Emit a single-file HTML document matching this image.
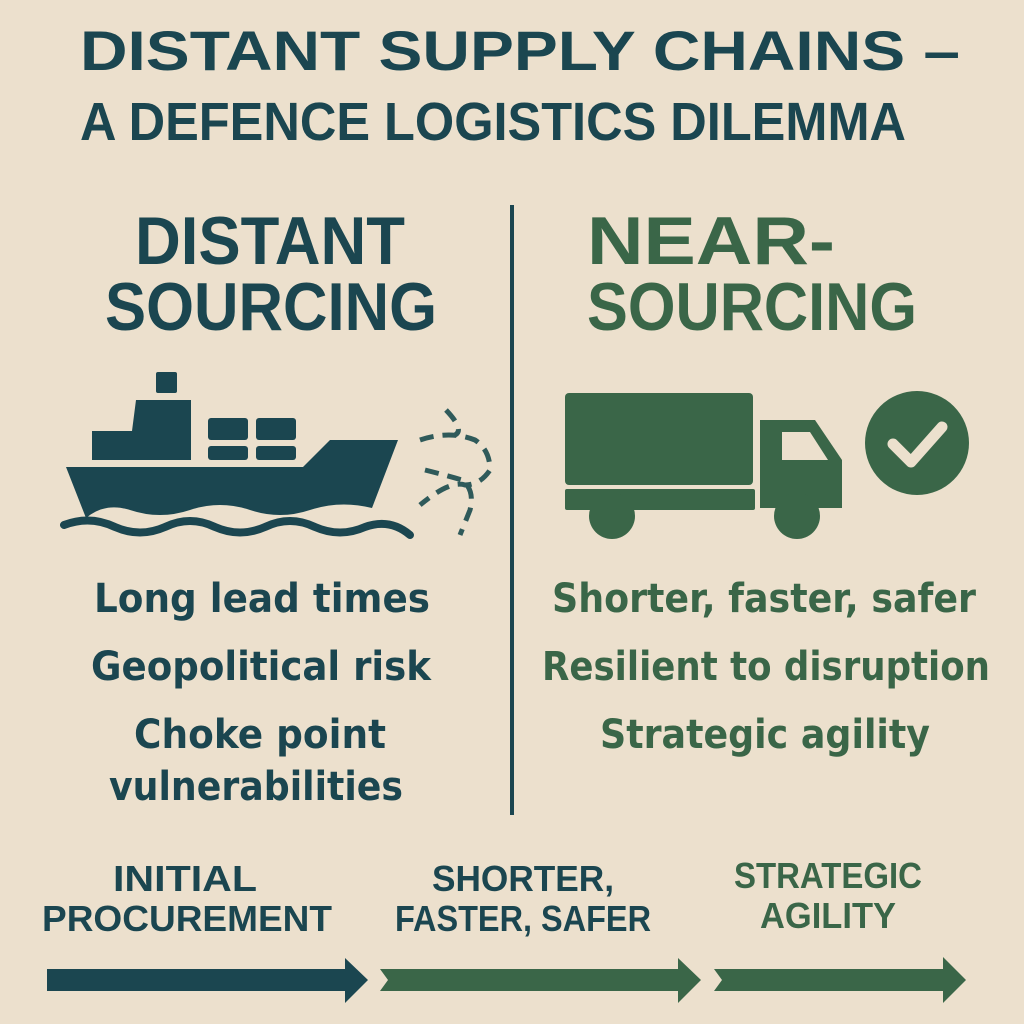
<!DOCTYPE html>
<html><head><meta charset="utf-8"><style>
body{margin:0;background:#ece0cd;}
svg{display:block}
text{font-family:"Liberation Sans",sans-serif;font-weight:bold;}
</style></head><body>
<svg width="1024" height="1024" viewBox="0 0 1024 1024">
<rect width="1024" height="1024" fill="#ece0cd"/>
<g fill="#1b4650">
<text x="80" y="70" font-size="56" textLength="880" lengthAdjust="spacingAndGlyphs">DISTANT SUPPLY CHAINS –</text>
<text x="80" y="140" font-size="54" textLength="826" lengthAdjust="spacingAndGlyphs">A DEFENCE LOGISTICS DILEMMA</text>
<text x="270" y="264" font-size="68" text-anchor="middle" textLength="270" lengthAdjust="spacingAndGlyphs">DISTANT</text>
<text x="271" y="330" font-size="68" text-anchor="middle" textLength="332" lengthAdjust="spacingAndGlyphs">SOURCING</text>
</g>
<g fill="#3a6648">
<text x="711" y="264" font-size="68" text-anchor="middle" textLength="248" lengthAdjust="spacingAndGlyphs">NEAR-</text>
<text x="752" y="330" font-size="68" text-anchor="middle" textLength="330" lengthAdjust="spacingAndGlyphs">SOURCING</text>
</g>
<rect x="510" y="205" width="4" height="610" fill="#1b4650"/>
<!-- ship -->
<g fill="#1b4650">
<rect x="156" y="372" width="21" height="21" rx="2"/>
<path d="M136 400 H191 V460 H92 V431 H132 Z"/>
<rect x="208" y="418" width="40" height="22" rx="3"/>
<rect x="256" y="418" width="40" height="22" rx="3"/>
<rect x="208" y="446" width="40" height="14" rx="3"/>
<rect x="256" y="446" width="40" height="14" rx="3"/>
<path d="M66 467 H303 L330 440 H398 L372 508 Q340 500 310 510 Q280 520 250 510 Q220 500 190 510 Q160 520 130 510 Q105 502 86 518 Z"/>
</g>
<path d="M64 525 Q90 515 115 527 Q140 538 165 527 Q190 515 215 527 Q240 538 265 527 Q290 515 315 527 Q340 538 365 527 Q390 518 410 535" fill="none" stroke="#1b4650" stroke-width="8" stroke-linecap="round"/>
<g fill="none" stroke="#2f5a5a" stroke-width="5" stroke-dasharray="14 9">
<path d="M446 410 Q465 430 455 435 M420 440 Q450 430 475 440 Q490 450 490 470 Q480 485 465 485 Q450 480 420 505 M425 470 Q445 475 462 480 Q475 490 470 510 L460 535"/>
</g>
<!-- truck -->
<g fill="#3a6648">
<rect x="565" y="393" width="188" height="92" rx="4"/>
<rect x="565" y="489" width="190" height="21" rx="2"/>
<path d="M760 420 H815 L842 460 V508 H760 Z"/>
<circle cx="612" cy="516" r="23"/>
<circle cx="797" cy="516" r="23"/>
<circle cx="917" cy="443" r="52"/>
</g>
<path d="M782 432 H810 L828 460 H782 Z" fill="#ece0cd"/>
<circle cx="612" cy="516" r="9" fill="#3a6648" stroke="#ece0cd" stroke-width="0"/>
<path d="M893 444 L911 462 L942 427" fill="none" stroke="#ece0cd" stroke-width="11" stroke-linecap="round" stroke-linejoin="round"/>
<g fill="#1b4650" font-size="40" text-anchor="middle">
<text x="262" y="612" style="font-weight:normal;font-family:'DejaVu Sans',sans-serif;font-weight:bold" textLength="336" lengthAdjust="spacingAndGlyphs">Long lead times</text>
<text x="261" y="680" style="font-family:'DejaVu Sans',sans-serif" textLength="340" lengthAdjust="spacingAndGlyphs">Geopolitical risk</text>
<text x="260" y="748" style="font-family:'DejaVu Sans',sans-serif" textLength="252" lengthAdjust="spacingAndGlyphs">Choke point</text>
<text x="256" y="800" style="font-family:'DejaVu Sans',sans-serif" textLength="294" lengthAdjust="spacingAndGlyphs">vulnerabilities</text>
</g>
<g fill="#3a6648" font-size="40" text-anchor="middle">
<text x="764" y="612" style="font-family:'DejaVu Sans',sans-serif" textLength="424" lengthAdjust="spacingAndGlyphs">Shorter, faster, safer</text>
<text x="766" y="680" style="font-family:'DejaVu Sans',sans-serif" textLength="448" lengthAdjust="spacingAndGlyphs">Resilient to disruption</text>
<text x="765" y="748" style="font-family:'DejaVu Sans',sans-serif" textLength="330" lengthAdjust="spacingAndGlyphs">Strategic agility</text>
</g>
<g font-size="36" text-anchor="middle">
<text x="185" y="891" fill="#1b4650" textLength="144" lengthAdjust="spacingAndGlyphs">INITIAL</text>
<text x="187" y="931" fill="#1b4650" textLength="290" lengthAdjust="spacingAndGlyphs">PROCUREMENT</text>
<text x="523" y="891" fill="#1b4650" textLength="182" lengthAdjust="spacingAndGlyphs">SHORTER,</text>
<text x="523" y="931" fill="#1b4650" textLength="256" lengthAdjust="spacingAndGlyphs">FASTER, SAFER</text>
<text x="828" y="888" fill="#3a6648" textLength="188" lengthAdjust="spacingAndGlyphs">STRATEGIC</text>
<text x="828" y="928" fill="#3a6648" textLength="136" lengthAdjust="spacingAndGlyphs">AGILITY</text>
</g>
<path d="M47 969 H345 V958 L368 980 L345 1003 V991 H47 Z" fill="#1b4650"/>
<path d="M380 969 H678 V958 L701 980 L678 1003 V991 H380 L388 980 Z" fill="#3a6648"/>
<path d="M714 969 H943 V957 L966 980 L943 1003 V991 H714 L722 980 Z" fill="#3a6648"/>
</svg>
</body></html>
